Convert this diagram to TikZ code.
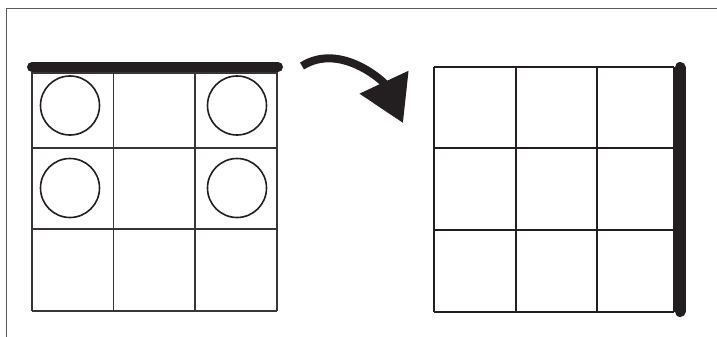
\documentclass[tikz,border=0pt]{standalone}
\usepackage{xcolor}
\usepackage{tikz}
\usetikzlibrary{arrows.meta}
\definecolor{ink}{HTML}{231F20}
\definecolor{framegray}{HTML}{5A5A5A}

\begin{document}
\begin{tikzpicture}[x=1pt, y=-1pt,
  thingrid/.style={draw=ink!90, line width=1.3pt},
  boldgrid/.style={draw=ink, line width=2.2pt},
  edgebar/.style={draw=ink, line width=11pt, line cap=round},
  marble/.style={draw=ink, line width=1.6pt},
  turn/.style={draw=ink, line width=8pt, -{Triangle[length=45pt, width=52pt]}}]
  \useasboundingbox (0,0) rectangle (717,337);
  % frame
  \draw[framegray, line width=1pt] (6,337) -- (6,8.5) -- (717,8.5);
  % left board
  \foreach \x in {32,113.7,195,277} \draw[thingrid] (\x,72) -- (\x,311);
  \foreach \y in {73,148,229,311} \draw[thingrid] (32,\y) -- (277,\y);
  \foreach \cx/\cy in {70/105.5, 237/105.5, 70/188, 237/188}
    \draw[marble] (\cx,\cy) circle[radius=29.5];
  \draw[edgebar, line width=10pt] (32,67) -- (278,67);
  % rotation arrow
  \draw[turn] (302,66) to[out=32, in=115] (403,123);
  % right board
  \foreach \x in {434,516,597,674} \draw[boldgrid] (\x,67) -- (\x,312);
  \foreach \y in {67,148,230,312} \draw[boldgrid] (434,\y) -- (674,\y);
  \draw[edgebar] (680,67.5) -- (680,311.5);
\end{tikzpicture}
\end{document}
